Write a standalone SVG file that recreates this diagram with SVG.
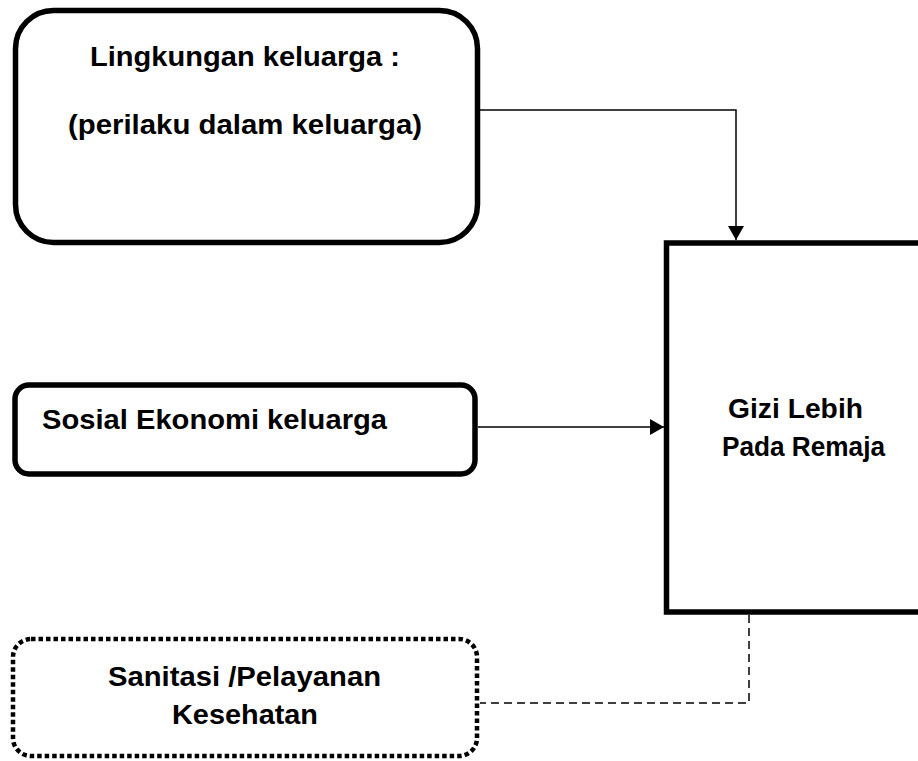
<svg xmlns="http://www.w3.org/2000/svg" width="918" height="761" viewBox="0 0 918 761">
<style>
.box{fill:#fff;stroke:#000;stroke-width:5.5}
.dot{fill:#fff;stroke:#000;stroke-width:4.5;stroke-dasharray:4.5 3}
.lbl{font-family:"Liberation Sans",Arial,sans-serif;font-weight:bold;font-size:27px;fill:#000}
.con{fill:none;stroke:#000;stroke-width:1.5}
.dash{fill:none;stroke:#000;stroke-width:1.5;stroke-dasharray:8 5}
</style>
<defs>
<marker id="arr" markerUnits="userSpaceOnUse" markerWidth="14" markerHeight="16" refX="14" refY="8" orient="auto">
<path d="M0,0 L14,8 L0,16 Z" fill="#000"/>
</marker>
</defs>
<rect width="918" height="761" fill="#fff"/>
<g id="connectors">
<path class="con" d="M480,110 H736 V240" marker-end="url(#arr)"/>
<path class="con" d="M478,427 H664" marker-end="url(#arr)"/>
<path class="dash" d="M749,615 V703 H480"/>
</g>
<g id="lingkungan">
<rect class="box" x="15.5" y="10.5" width="462" height="232" rx="38"/>
<text class="lbl" x="90" y="66" textLength="310" lengthAdjust="spacingAndGlyphs">Lingkungan keluarga :</text>
<text class="lbl" x="68" y="134" textLength="354" lengthAdjust="spacingAndGlyphs">(perilaku dalam keluarga)</text>
</g>
<g id="sosial">
<rect class="box" x="15" y="385" width="460" height="89" rx="14"/>
<text class="lbl" x="42" y="429" textLength="345" lengthAdjust="spacingAndGlyphs">Sosial Ekonomi keluarga</text>
</g>
<g id="gizi">
<rect class="box" x="666.5" y="243" width="300" height="369" stroke-width="6"/>
<text class="lbl" x="728" y="418" textLength="135" lengthAdjust="spacingAndGlyphs">Gizi Lebih</text>
<text class="lbl" x="722" y="456" textLength="163" lengthAdjust="spacingAndGlyphs">Pada Remaja</text>
</g>
<g id="sanitasi">
<rect class="dot" x="13" y="639" width="464" height="117" rx="18"/>
<text class="lbl" x="108" y="686" textLength="273" lengthAdjust="spacingAndGlyphs">Sanitasi /Pelayanan</text>
<text class="lbl" x="172" y="724" textLength="146" lengthAdjust="spacingAndGlyphs">Kesehatan</text>
</g>
</svg>
